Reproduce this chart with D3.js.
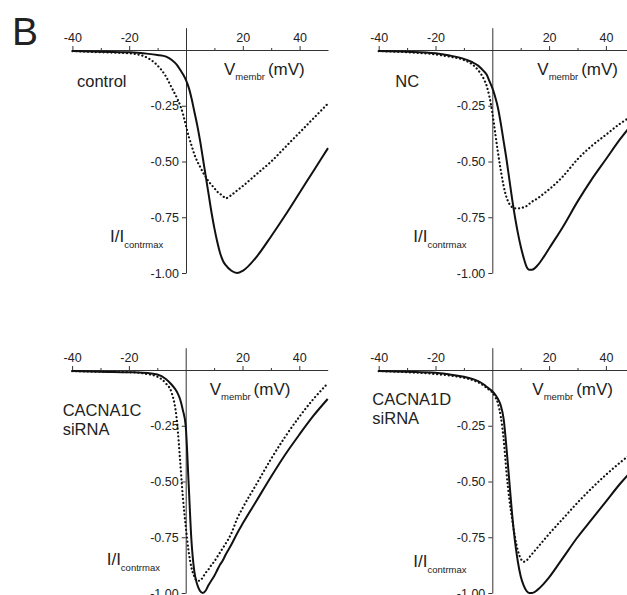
<!DOCTYPE html>
<html>
<head>
<meta charset="utf-8">
<script src="https://cdn.jsdelivr.net/npm/d3@7"></script>
<style>
  body { margin: 0; background: #fff; }
  svg { display: block; font-family: "Liberation Sans", Arial, sans-serif; }
  .axis path, .axis line { stroke: #333; stroke-width: 1; }
  .axis text { fill: #222; font-family: "Liberation Sans", Arial, sans-serif; }
  .lbl { fill: #222; }
</style>
</head>
<body>
<svg id="chart" width="627" height="595"></svg>
<script>
// membrane voltage (mV) at which each trace is sampled
const voltage = [-40, -30, -20, -15, -10, -7, -5, -3, -2, -1, 0, 1, 2, 3, 4, 5, 6, 7, 8, 9, 10,
  11, 12, 13, 14, 16, 18, 20, 25, 30, 35, 40, 45, 50];

// normalised current I/I_contrmax, solid = continuous trace, dotted = dotted trace
const controlSolid = [-0.005, -0.008, -0.01, -0.015, -0.022, -0.03, -0.045, -0.07, -0.09, -0.11, -0.135,
  -0.17, -0.22, -0.28, -0.34, -0.41, -0.49, -0.57, -0.65, -0.73, -0.80, -0.86, -0.91, -0.945, -0.965,
  -0.99, -1.00, -0.99, -0.925, -0.835, -0.74, -0.64, -0.54, -0.44];
const controlDotted = [-0.005, -0.01, -0.015, -0.027, -0.07, -0.12, -0.17, -0.22, -0.25, -0.29, -0.34,
  -0.39, -0.43, -0.47, -0.50, -0.525, -0.55, -0.57, -0.59, -0.605, -0.62, -0.635, -0.645, -0.655, -0.665,
  -0.65, -0.63, -0.61, -0.555, -0.50, -0.435, -0.37, -0.305, -0.24];

const ncSolid = [-0.005, -0.008, -0.015, -0.025, -0.04, -0.055, -0.07, -0.095, -0.11, -0.14, -0.17,
  -0.21, -0.26, -0.33, -0.41, -0.49, -0.58, -0.67, -0.75, -0.82, -0.88, -0.93, -0.97, -0.985, -0.985,
  -0.965, -0.93, -0.89, -0.79, -0.68, -0.58, -0.49, -0.40, -0.32];
const ncDotted = [-0.005, -0.01, -0.02, -0.03, -0.045, -0.065, -0.09, -0.13, -0.16, -0.21, -0.28,
  -0.37, -0.46, -0.54, -0.61, -0.66, -0.69, -0.705, -0.71, -0.71, -0.71, -0.705, -0.70, -0.69, -0.68,
  -0.665, -0.645, -0.625, -0.565, -0.49, -0.43, -0.38, -0.33, -0.29];

const a1cSolid = [-0.005, -0.008, -0.01, -0.012, -0.02, -0.04, -0.065, -0.10, -0.13, -0.18, -0.25,
  -0.50, -0.76, -0.90, -0.96, -0.99, -1.00, -0.99, -0.965, -0.945, -0.925, -0.90, -0.875, -0.855, -0.83,
  -0.785, -0.735, -0.69, -0.585, -0.48, -0.38, -0.29, -0.205, -0.13];
const a1cDotted = [-0.005, -0.008, -0.01, -0.015, -0.03, -0.06, -0.10, -0.24, -0.40, -0.57, -0.70,
  -0.81, -0.885, -0.925, -0.945, -0.945, -0.93, -0.91, -0.895, -0.875, -0.86, -0.84, -0.82, -0.80, -0.78,
  -0.735, -0.67, -0.62, -0.51, -0.40, -0.30, -0.21, -0.13, -0.06];

const a1dSolid = [-0.005, -0.008, -0.012, -0.02, -0.03, -0.04, -0.05, -0.065, -0.075, -0.085, -0.095,
  -0.11, -0.13, -0.16, -0.22, -0.35, -0.50, -0.65, -0.77, -0.86, -0.925, -0.965, -0.99, -1.00, -1.00,
  -0.985, -0.96, -0.93, -0.84, -0.75, -0.67, -0.59, -0.51, -0.44];
const a1dDotted = [-0.005, -0.01, -0.018, -0.025, -0.035, -0.045, -0.055, -0.07, -0.08, -0.09, -0.10,
  -0.12, -0.15, -0.21, -0.31, -0.46, -0.58, -0.67, -0.75, -0.81, -0.845, -0.86, -0.855, -0.84, -0.825,
  -0.795, -0.765, -0.735, -0.665, -0.595, -0.53, -0.47, -0.415, -0.365];

const xMajorTicks = [-40, -20, 20, 40];
const xMinorTicks = [-30, -10, 10, 30];
const yTicks = [-0.25, -0.50, -0.75, -1.00];

// panel layout: x0/y0 = pixel position of (0 mV, 0)
const panels = [
  { x0: 186, y0: 50, name: ['control'], nameX: -109, nameY: 37, vX: 38, iX: -76, iY: 192,
    solid: controlSolid, dotted: controlDotted },
  { x0: 492.3, y0: 50, name: ['NC'], nameX: -97, nameY: 37, vX: 45, iX: -79, iY: 192,
    solid: ncSolid, dotted: ncDotted },
  { x0: 185.7, y0: 370, name: ['CACNA1C', 'siRNA'], nameX: -123, nameY: 46, vX: 24, iX: -79, iY: 195,
    solid: a1cSolid, dotted: a1cDotted },
  { x0: 492.3, y0: 370, name: ['CACNA1D', 'siRNA'], nameX: -120, nameY: 35, vX: 40, iX: -79, iY: 197,
    solid: a1dSolid, dotted: a1dDotted }
];

const pxPerMV = 2.84;
const pxPerUnit = 223;

const svg = d3.select('#chart');

svg.append('text')
  .attr('class', 'lbl')
  .attr('x', 12)
  .attr('y', 45)
  .style('font-size', '39px')
  .text('B');

panels.forEach(p => {
  const x = d3.scaleLinear()
    .domain([-40, 50])
    .range([p.x0 - 40 * pxPerMV, p.x0 + 50 * pxPerMV]);
  const y = d3.scaleLinear()
    .domain([0.1, -1])
    .range([p.y0 - 0.1 * pxPerUnit, p.y0 + pxPerUnit]);

  const g = svg.append('g');

  // x axis: ticks point up, labels above
  g.append('g')
    .attr('class', 'axis')
    .attr('transform', `translate(0,${y(0)})`)
    .call(d3.axisTop(x).tickValues(xMajorTicks).tickSize(4).tickSizeOuter(0).tickPadding(4)
      .tickFormat(d => String(d)))
    .call(a => a.selectAll('text').style('font-size', '12.5px'));

  g.append('g')
    .attr('class', 'axis')
    .attr('transform', `translate(0,${y(0)})`)
    .call(d3.axisTop(x).tickValues(xMinorTicks).tickSize(2).tickFormat(''))
    .call(a => a.select('.domain').remove());

  // y axis through 0 mV
  g.append('g')
    .attr('class', 'axis')
    .attr('transform', `translate(${x(0)},0)`)
    .call(d3.axisLeft(y).tickValues(yTicks).tickSize(4).tickSizeOuter(0).tickPadding(3)
      .tickFormat(d => d.toFixed(2)))
    .call(a => a.selectAll('text').style('font-size', '12.5px'));

  const line = d3.line()
    .x((d, i) => x(voltage[i]))
    .y(d => y(d))
    .curve(d3.curveMonotoneX);

  g.append('path')
    .datum(p.dotted)
    .attr('d', line)
    .attr('fill', 'none')
    .attr('stroke', '#111')
    .attr('stroke-width', 2.2)
    .attr('stroke-linecap', 'round')
    .attr('stroke-dasharray', '0.1 3.8');

  g.append('path')
    .datum(p.solid)
    .attr('d', line)
    .attr('fill', 'none')
    .attr('stroke', '#111')
    .attr('stroke-width', 2);

  // condition name
  const nm = g.append('text')
    .attr('class', 'lbl')
    .style('font-size', '16.5px');
  p.name.forEach((t, i) => {
    nm.append('tspan')
      .attr('x', p.x0 + p.nameX)
      .attr('y', p.y0 + p.nameY + i * 19)
      .text(t);
  });

  // V_membr (mV)
  const vt = g.append('text')
    .attr('class', 'lbl')
    .attr('x', p.x0 + p.vX)
    .attr('y', p.y0 + 25)
    .style('font-size', '17px');
  vt.append('tspan').text('V');
  vt.append('tspan').attr('dy', 5).style('font-size', '9.5px').text('membr');
  vt.append('tspan').attr('dy', -5).attr('dx', 3).text('(mV)');

  // I/I_contrmax
  const it = g.append('text')
    .attr('class', 'lbl')
    .attr('x', p.x0 + p.iX)
    .attr('y', p.y0 + p.iY)
    .style('font-size', '17px');
  it.append('tspan').text('I/I');
  it.append('tspan').attr('dy', 6).style('font-size', '9.5px').text('contrmax');
});
</script>
</body>
</html>
